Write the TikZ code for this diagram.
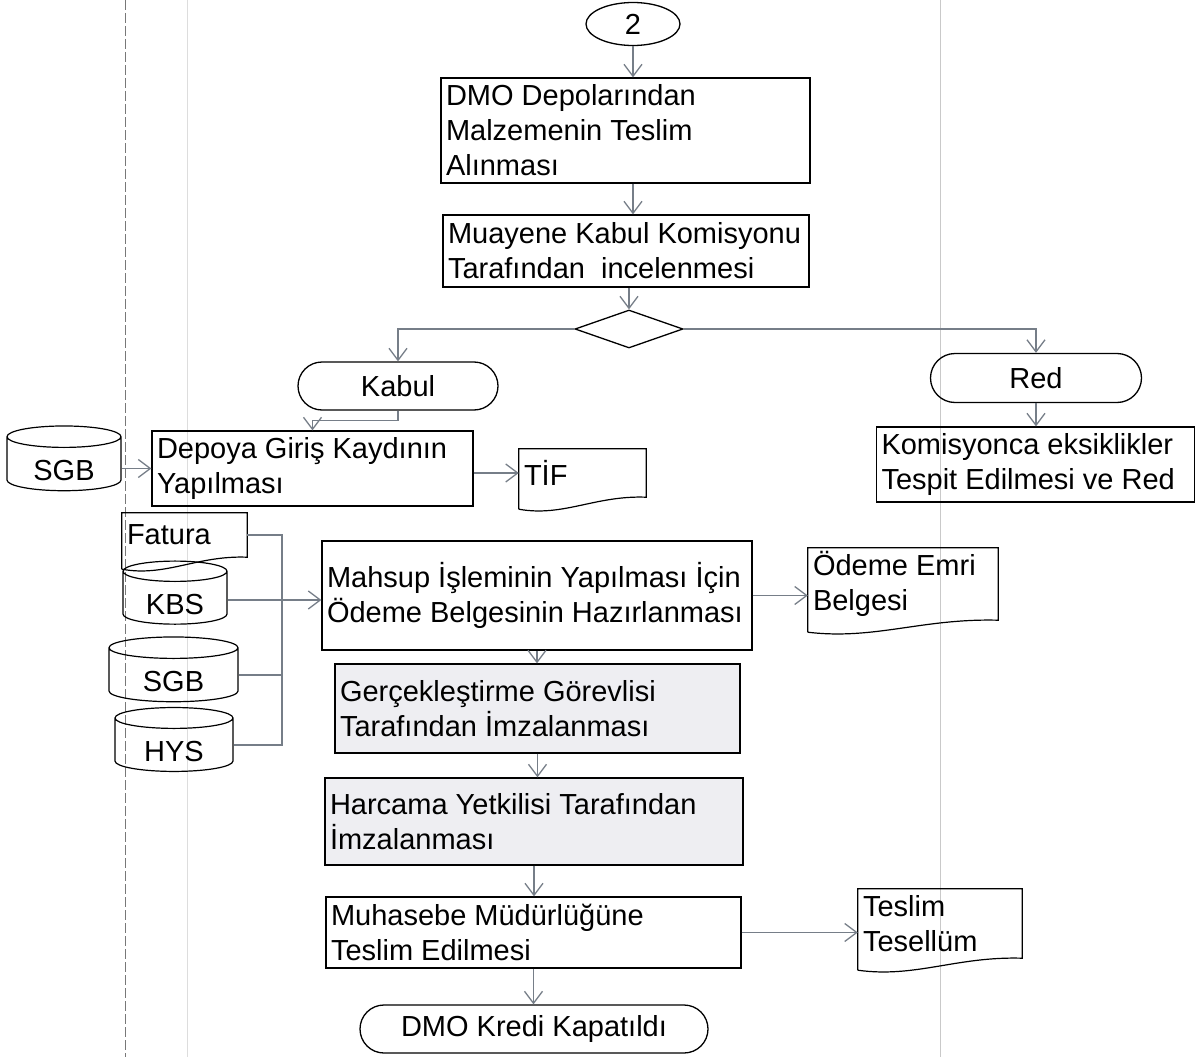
\documentclass[tikz,border=0pt]{standalone}
\usepackage{fontspec}
\setmainfont{Liberation Sans}
\usetikzlibrary{shapes.geometric,shapes.misc,arrows.meta,calc}
\definecolor{linegray}{RGB}{118,126,136}
\definecolor{lanegray}{RGB}{120,120,120}
\definecolor{boxfill}{RGB}{238,238,242}

\begin{document}
\begin{tikzpicture}[x=1pt,y=-1pt,
    font=\fontsize{29}{35}\selectfont,
    box/.style={draw, line width=1.3pt, align=justify, inner xsep=5pt, inner ysep=0pt},
    term/.style={draw, line width=1.3pt, rounded rectangle, inner sep=0pt},
    cyl/.style={draw, line width=1.2pt, cylinder, shape border rotate=90, aspect=0.35, inner sep=0pt, text height=32pt, text depth=0pt},
    doc/.style={align=justify, inner xsep=5pt, inner ysep=0pt},
    arr/.style={draw=linegray, line width=1.3pt, -{Straight Barb[length=12pt,width=18pt]}},
    link/.style={draw=linegray, line width=1.3pt}]
    \useasboundingbox (0,0) rectangle (1195,1057);
    \draw[lanegray, line width=1pt, dash pattern=on 10pt off 3pt] (125,0) -- (125,1057);
    \draw[lanegray!25, line width=0.8pt] (187,0) -- (187,1057);
    \draw[lanegray!40, line width=0.8pt] (940,0) -- (940,1057);

    \node[draw, ellipse, line width=1.3pt, minimum width=94pt, minimum height=43pt, inner sep=0pt] (two) at (633,24) {2};
    \node[box, text width=359pt, minimum height=105pt] (dmo) at (625.5,130.5) {DMO Depolarından\\Malzemenin Teslim\\Alınması};
    \node[box, text width=356pt, minimum height=72pt] (muayene) at (626,251) {Muayene Kabul Komisyonu\\Tarafından\ \ incelenmesi};
    \node[draw, diamond, aspect=2.84, line width=1.3pt, minimum width=108pt, minimum height=38pt, inner sep=0pt] (karar) at (629,329) {};
    \node[term, minimum width=200pt, minimum height=48pt] (kabul) at (398,386) {Kabul};
    \node[term, minimum width=211pt, minimum height=49pt] (red) at (1036,378) {Red};
    \node[box, text width=308pt, minimum height=75pt] (komisyon) at (1035.5,464.5) {Komisyonca eksiklikler\\Tespit Edilmesi ve Red};
    \node[box, text width=311pt, minimum height=75pt] (depoya) at (312.5,468.5) {Depoya Giriş Kaydının\\Yapılması};
    \node[cyl, minimum width=114pt, minimum height=62pt] (sgba) at (64,464) {SGB};
    \node[doc, text width=117pt, minimum height=48pt] (tif) at (582.5,473) {TİF};
    \node[doc, text width=115pt, minimum height=44pt] (fatura) at (184.5,535) {Fatura};
    \node[cyl, minimum width=104pt, minimum height=58pt] (kbs) at (175,598) {KBS};
    \node[cyl, minimum width=129pt, minimum height=52pt] (sgbb) at (173.5,675) {SGB};
    \node[cyl, minimum width=118pt, minimum height=50pt] (hys) at (174,745) {HYS};
    \node[box, text width=420pt, minimum height=109pt] (mahsup) at (537,595.5) {Mahsup İşleminin Yapılması İçin\\Ödeme Belgesinin Hazırlanması};
    \node[doc, text width=180pt, minimum height=72pt] (odeme) at (903,584) {Ödeme Emri\\Belgesi};
    \node[box, fill=boxfill, text width=395pt, minimum height=89pt] (gercek) at (537.5,708.5) {Gerçekleştirme Görevlisi\\Tarafından İmzalanması};
    \node[box, fill=boxfill, text width=408pt, minimum height=87pt] (harcama) at (534,821.5) {Harcama Yetkilisi Tarafından\\İmzalanması};
    \node[box, text width=405pt, minimum height=71pt] (muhasebe) at (533.5,932.5) {Muhasebe Müdürlüğüne\\Teslim Edilmesi};
    \node[doc, text width=154pt, minimum height=69pt] (teslim) at (940,923.5) {Teslim\\Tesellüm};
    \node[term, minimum width=348pt, minimum height=48pt] (kredi) at (534,1029) {DMO Kredi Kapatıldı};

    \foreach \d in {tif,fatura,odeme,teslim}
        \draw[line width=1.2pt] ($(\d.south west)+(0,12)$) -- (\d.north west) -- (\d.north east) -- (\d.south east)
            .. controls ($(\d.south west)!0.6!(\d.south east)+(0,-2)$) and ($(\d.south west)!0.35!(\d.south east)+(0,20)$) .. ($(\d.south west)+(0,12)$);

    \coordinate (bus) at (282,600);
    \draw[arr] (two) -- (dmo.north -| two);
    \draw[arr] (dmo.south -| two) -- (muayene.north -| two);
    \draw[arr] (muayene.south -| karar) -- (karar.north);
    \draw[arr] (karar.west) -| (kabul.north);
    \draw[arr] (karar.east) -| (red.north);
    \draw[arr] (red.south) -- (komisyon.north -| red.south);
    \draw[arr] (kabul.south) -- ++(0,10) -| (depoya.north);
    \draw[arr] (sgba.0 |- depoya.west) -- (depoya.west);
    \draw[arr] (depoya.east |- tif.west) -- (tif.west);
    \draw[link] (fatura.east) -| (bus);
    \draw[link] (kbs.0 |- bus) -- (bus);
    \draw[link] (sgbb.0) -| (bus);
    \draw[link] (hys.0) -| (bus);
    \draw[arr] (bus) -- (bus -| mahsup.west);
    \draw[arr] (mahsup.east) -- (mahsup.east -| odeme.west);
    \draw[arr] (mahsup.south) -- (mahsup.south |- gercek.north);
    \draw[arr] (gercek.south) -- (gercek.south |- harcama.north);
    \draw[arr] (harcama.south) -- (harcama.south |- muhasebe.north);
    \draw[arr] (muhasebe.east) -- (muhasebe.east -| teslim.west);
    \draw[arr] (muhasebe.south) -- (muhasebe.south |- kredi.north);
\end{tikzpicture}
\end{document}
